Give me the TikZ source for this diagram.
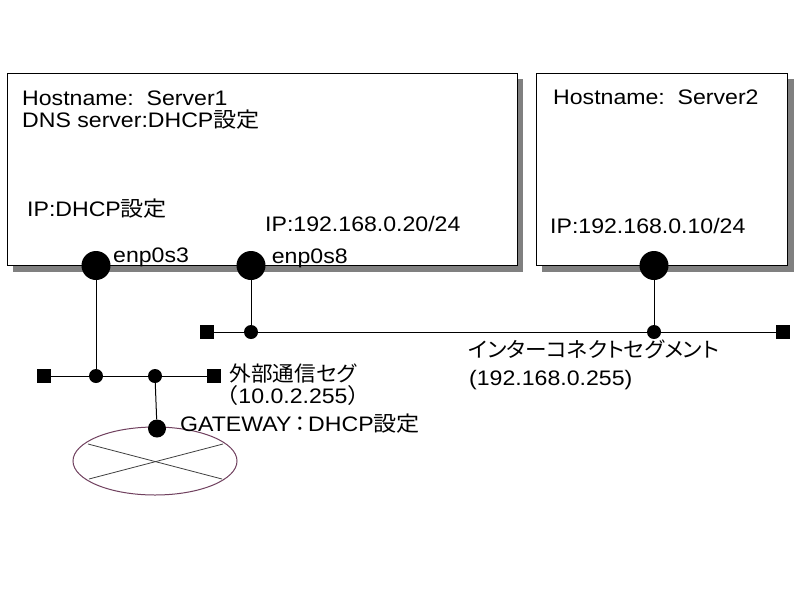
\documentclass[tikz,border=0pt]{standalone}
\usepackage{fontspec}
\setmainfont{Liberation Sans}[FakeStretch=1.1]
\newfontfamily\jpfont{Noto Sans CJK JP}[FakeStretch=1.03,RawFeature=+palt]
\newfontfamily\jpwide{Noto Sans CJK JP}[FakeStretch=1.1]
\usetikzlibrary{shapes.geometric,shadows,calc}
\tikzset{
  hostbox/.style={draw=black, line width=1pt, fill=white, inner sep=0pt,
    drop shadow={shadow xshift=6pt, shadow yshift=-6pt, fill=black!50, opacity=1}},
  bigdot/.style={circle, fill=black, inner sep=0pt, minimum size=29pt},
  smalldot/.style={circle, fill=black, inner sep=0pt, minimum size=14pt},
  gwdot/.style={circle, fill=black, inner sep=0pt, minimum size=18pt},
  endsq/.style={rectangle, fill=black, inner sep=0pt, minimum size=14pt},
  lbl/.style={anchor=base west, inner sep=0pt},
  clbl/.style={anchor=base, inner sep=0pt},
  wire/.style={line width=1pt, draw=black},
}
\definecolor{routerline}{RGB}{112,64,94}
\definecolor{crossline}{RGB}{64,64,64}
\begin{document}
\begin{tikzpicture}[x=1pt, y=-1pt, font=\fontsize{21}{25}\selectfont]
\useasboundingbox (0,0) rectangle (800,600);
\fill[white] (0,0) rectangle (800,600);

% host boxes
\node[hostbox, minimum width=510pt, minimum height=192.5pt] (s1) at (262,169.25) {};
\node[hostbox, minimum width=251.5pt, minimum height=192.5pt] (s2) at (661.75,169.25) {};

% texts in boxes
\node[lbl] (s1name) at (22,105) {Hostname:\ \ Server1};
\node[lbl] (s1dns) at (22,127.7) {DNS server:DHCP{\jpwide 設定}};
\node[lbl] (s1ip3) at (27,216.7) {IP:DHCP{\jpwide 設定}};
\node[lbl] (s1ip8) at (265,231.7) {IP:192.168.0.20/24};
\node[lbl] (s2name) at (553,104) {Hostname:\ \ Server2};
\node[lbl] (s2ip) at (550,233.3) {IP:192.168.0.10/24};

% interfaces
\node[bigdot] (d3) at (96,265.5) {};
\node[bigdot] (d8) at (251,265.5) {};
\node[bigdot] (d10) at (654,265.5) {};
\node[lbl] (l3) at (113,262.7) {enp0s3};
\node[lbl] (l8) at (271.7,263.3) {enp0s8};

% interconnect segment
\node[endsq] (iL) at (207,332) {};
\node[endsq] (iR) at (783,332) {};
\node[smalldot] (i1) at (251,332) {};
\node[smalldot] (i2) at (654,332) {};

% external segment
\node[endsq] (eL) at (44,376) {};
\node[endsq] (eR) at (214,376) {};
\node[smalldot] (e1) at (96,376) {};
\node[smalldot] (e2) at (155,376) {};

% gateway / router
\node[draw=routerline, line width=1pt, ellipse, minimum width=164pt, minimum height=68pt, inner sep=0pt] (rt) at (155,461) {};
\draw[crossline, line width=0.8pt] ($(rt.center)+(-67,-17)$) -- ($(rt.center)+(67,18)$);
\draw[crossline, line width=0.8pt] ($(rt.center)+(-66,18)$) -- ($(rt.center)+(68,-17)$);
\node[gwdot] (gw) at (157,428.5) {};

% connectors
\draw[wire] (d8) -- (i1);
\draw[wire] (d10) -- (i2);
\draw[wire] (iL) -- (i1) -- (i2) -- (iR);
\draw[wire] (d3) -- (e1);
\draw[wire] (eL) -- (e1) -- (e2) -- (eR);
\draw[wire] (e2) -- (gw);

% segment labels
\node[clbl] (extA) at (293,381) {\jpfont 外部通信セグ};
\node[clbl] (extB) at (293,403.3) {{\jpwide （}10.0.2.255{\jpwide ）}};
\node[lbl] (gwl) at (180,431.7) {GATEWAY\hspace{3pt}{\jpfont ：}\hspace{3pt}DHCP{\jpwide 設定}};
\node[lbl] (icA) at (468,357) {\jpfont インターコネクトセグメント};
\node[lbl] (icB) at (469,385) {(192.168.0.255)};
\end{tikzpicture}
\end{document}
